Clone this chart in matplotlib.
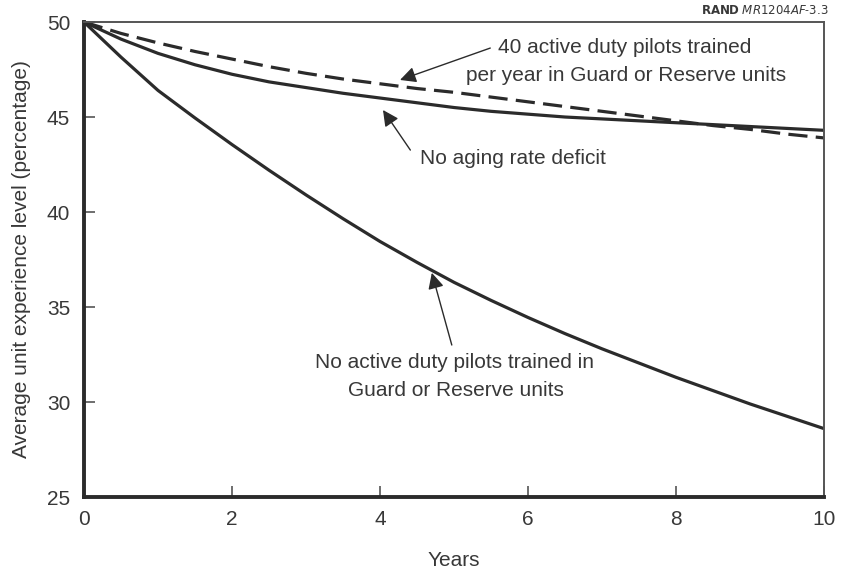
import numpy as np
import matplotlib
matplotlib.use("Agg")
import matplotlib.pyplot as plt

plt.rcParams['font.family'] = ['Liberation Sans', 'DejaVu Sans']

YEARS = [0, 0.5, 1, 1.5, 2, 2.5, 3, 3.5, 4, 4.5, 5,
         5.5, 6, 6.5, 7, 7.5, 8, 8.5, 9, 9.5, 10]
# no active duty pilots trained in Guard or Reserve units
NO_TRAINING = [50, 48.15, 46.4, 44.95, 43.55, 42.2, 40.9, 39.65, 38.45, 37.35, 36.3,
               35.35, 34.45, 33.6, 32.8, 32.05, 31.3, 30.6, 29.9, 29.25, 28.6]
# no aging rate deficit
NO_AGING = [50, 49.1, 48.35, 47.75, 47.25, 46.85, 46.55, 46.25, 46.0, 45.75, 45.5,
            45.3, 45.15, 45.0, 44.9, 44.8, 44.7, 44.6, 44.5, 44.4, 44.3]
# 40 active duty pilots trained per year
TRAIN_40 = [50, 49.4, 48.9, 48.45, 48.05, 47.65, 47.3, 47.0, 46.75, 46.5, 46.3,
            46.05, 45.8, 45.55, 45.3, 45.05, 44.8, 44.55, 44.35, 44.1, 43.9]
XTICKS = [0, 2, 4, 6, 8, 10]
YTICKS = [25, 30, 35, 40, 45, 50]

INK = '#2b2b2b'
TXT = '#383838'
FS = 15

fig = plt.figure(figsize=(8.41, 5.69), dpi=100)
ax = fig.add_axes([0.0999, 0.1265, 0.8799, 0.8348])

ax.plot(YEARS, NO_TRAINING, color=INK, lw=2.3, solid_capstyle='butt')
ax.plot(YEARS, NO_AGING, color=INK, lw=2.3, solid_capstyle='butt')
ax.plot(YEARS, TRAIN_40, color=INK, lw=2.3, dashes=(6, 2.6))

ax.set_xlim(0, 10)
ax.set_ylim(25, 50)
ax.set_xticks(XTICKS)
ax.set_yticks(YTICKS)
ax.tick_params(direction='in', length=8, width=1.2, colors='#555555',
               labelsize=FS, labelcolor=TXT)
ax.tick_params(axis='y', pad=10)
ax.tick_params(axis='x', pad=9)

for s in ['left', 'bottom']:
    ax.spines[s].set_linewidth(2.8)
    ax.spines[s].set_color(INK)
for s in ['top', 'right']:
    ax.spines[s].set_linewidth(1.4)
    ax.spines[s].set_color('#555555')

ax.set_xlabel('Years', fontsize=FS, color=TXT, labelpad=16)
ax.set_ylabel('Average unit experience level (percentage)', fontsize=FS,
              color=TXT, labelpad=11)

arrow = dict(arrowstyle='-|>', color=INK, lw=1.0, mutation_scale=24,
             shrinkA=0, shrinkB=0)

ax.annotate('', xy=(4.27, 46.95), xytext=(5.49, 48.63), arrowprops=arrow)
ax.text(7.3, 48.68, '40 active duty pilots trained', fontsize=FS,
        color=TXT, ha='center', va='center')
ax.text(7.33, 47.2, 'per year in Guard or Reserve units', fontsize=FS,
        color=TXT, ha='center', va='center')

ax.annotate('', xy=(4.04, 45.37), xytext=(4.41, 43.26), arrowprops=arrow)
ax.text(4.54, 42.84, 'No aging rate deficit', fontsize=FS,
        color=TXT, ha='left', va='center')

ax.annotate('', xy=(4.70, 36.8), xytext=(4.97, 33.0), arrowprops=arrow)
ax.text(5.01, 32.1, 'No active duty pilots trained in', fontsize=FS,
        color=TXT, ha='center', va='center')
ax.text(5.03, 30.63, 'Guard or Reserve units', fontsize=FS,
        color=TXT, ha='center', va='center')

fig.text(0.985, 0.982, r'$\bf{RAND}$ $\it{MR1204AF}$-$\it{3.3}$', fontsize=8.5,
         color=TXT, ha='right', va='center')

fig.savefig('out.png', dpi=100)
